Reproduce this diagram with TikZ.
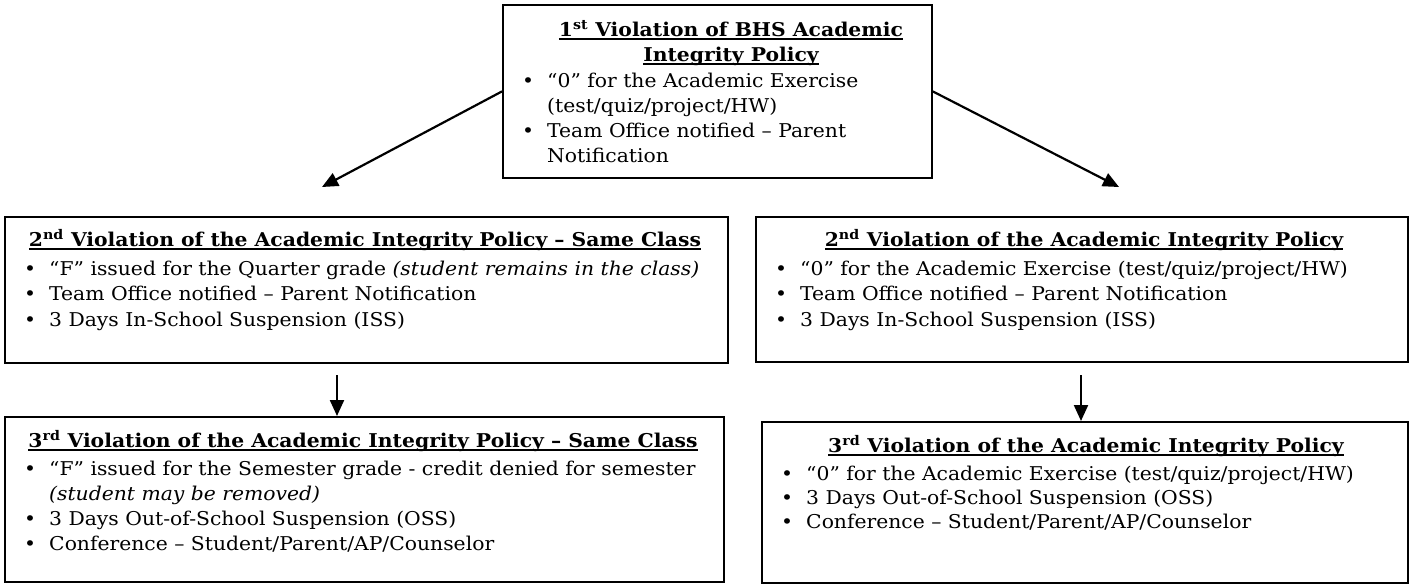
\documentclass[tikz,border=0pt]{standalone}
\usepackage{fontspec}
\setmainfont{DejaVu Serif}[FakeStretch=1.07]
\usetikzlibrary{arrows.meta}
\newcommand\ulin[1]{\setbox0\hbox{#1}\rlap{\rule[-4pt]{\wd0}{1.8pt}}\box0}
\begin{document}
\begin{tikzpicture}[x=1pt,y=-1pt,
  box/.style={draw, line width=1.8pt, anchor=north west, inner sep=0pt},
  ttl/.style={anchor=base, font=\fontsize{19}{25}\selectfont\bfseries, inner sep=0pt},
  txt/.style={anchor=base west, font=\fontsize{19}{25}\selectfont, inner sep=0pt},
  bul/.style={anchor=base, font=\fontsize{19}{25}\selectfont, inner sep=0pt},
  arr/.style={line width=2.2pt, -{Triangle[length=16pt,width=14pt]}}]
\useasboundingbox (0,0) rectangle (1409,584);
% boxes
\node[box, minimum width=429pt, minimum height=173pt] (top) at (502,4) {};
\node[box, minimum width=723pt, minimum height=146pt] (l2) at (4,216) {};
\node[box, minimum width=652pt, minimum height=145pt] (r2) at (755,216) {};
\node[box, minimum width=719pt, minimum height=165pt] (l3) at (4,416) {};
\node[box, minimum width=646pt, minimum height=161pt] (r3) at (761,421) {};
% top box text
\node[ttl] (t1) at (731,36) {\ulin{1\textsuperscript{st} Violation of BHS Academic}};
\node[ttl] (t2) at (731,61) {\ulin{Integrity Policy}};
\node[bul] (tb1) at (528,87) {\textbullet};
\node[txt] (tx1) at (547,87) {“0” for the Academic Exercise};
\node[txt] (tx2) at (547,112) {(test/quiz/project/HW)};
\node[bul] (tb2) at (528,137) {\textbullet};
\node[txt] (tx3) at (547,137) {Team Office notified – Parent};
\node[txt] (tx4) at (547,162) {Notification};
% L2
\node[ttl] (l2t) at (365,246) {\ulin{2\textsuperscript{nd} Violation of the Academic Integrity Policy – Same Class}};
\node[bul] (l2b1) at (30,275) {\textbullet};
\node[txt] (l2x1) at (49,275) {“F” issued for the Quarter grade \textit{(student remains in the class)}};
\node[bul] (l2b2) at (30,300) {\textbullet};
\node[txt] (l2x2) at (49,300) {Team Office notified – Parent Notification};
\node[bul] (l2b3) at (30,326) {\textbullet};
\node[txt] (l2x3) at (49,326) {3 Days In-School Suspension (ISS)};
% R2
\node[ttl] (r2t) at (1084,246) {\ulin{2\textsuperscript{nd} Violation of the Academic Integrity Policy}};
\node[bul] (r2b1) at (781,275) {\textbullet};
\node[txt] (r2x1) at (800,275) {“0” for the Academic Exercise (test/quiz/project/HW)};
\node[bul] (r2b2) at (781,300) {\textbullet};
\node[txt] (r2x2) at (800,300) {Team Office notified – Parent Notification};
\node[bul] (r2b3) at (781,326) {\textbullet};
\node[txt] (r2x3) at (800,326) {3 Days In-School Suspension (ISS)};
% L3
\node[ttl] (l3t) at (363,447) {\ulin{3\textsuperscript{rd} Violation of the Academic Integrity Policy – Same Class}};
\node[bul] (l3b1) at (30,475) {\textbullet};
\node[txt] (l3x1) at (49,475) {“F” issued for the Semester grade - credit denied for semester};
\node[txt] (l3x2) at (49,500) {\textit{(student may be removed)}};
\node[bul] (l3b2) at (30,525) {\textbullet};
\node[txt] (l3x3) at (49,525) {3 Days Out-of-School Suspension (OSS)};
\node[bul] (l3b3) at (30,550) {\textbullet};
\node[txt] (l3x4) at (49,550) {Conference – Student/Parent/AP/Counselor};
% R3
\node[ttl] (r3t) at (1086,452) {\ulin{3\textsuperscript{rd} Violation of the Academic Integrity Policy}};
\node[bul] (r3b1) at (787,480) {\textbullet};
\node[txt] (r3x1) at (806,480) {“0” for the Academic Exercise (test/quiz/project/HW)};
\node[bul] (r3b2) at (787,504) {\textbullet};
\node[txt] (r3x2) at (806,504) {3 Days Out-of-School Suspension (OSS)};
\node[bul] (r3b3) at (787,528) {\textbullet};
\node[txt] (r3x3) at (806,528) {Conference – Student/Parent/AP/Counselor};
% arrows
\coordinate (lt) at (322,187);
\coordinate (rt) at (1119,187);
\draw[arr] (top.west) -- (lt);
\draw[arr] (top.east) -- (rt);
\coordinate (la) at (337,375);
\coordinate (ra) at (1081,375);
\draw[arr] (la) -- (la |- l3.north);
\draw[arr] (ra) -- (ra |- r3.north);
\end{tikzpicture}
\end{document}
